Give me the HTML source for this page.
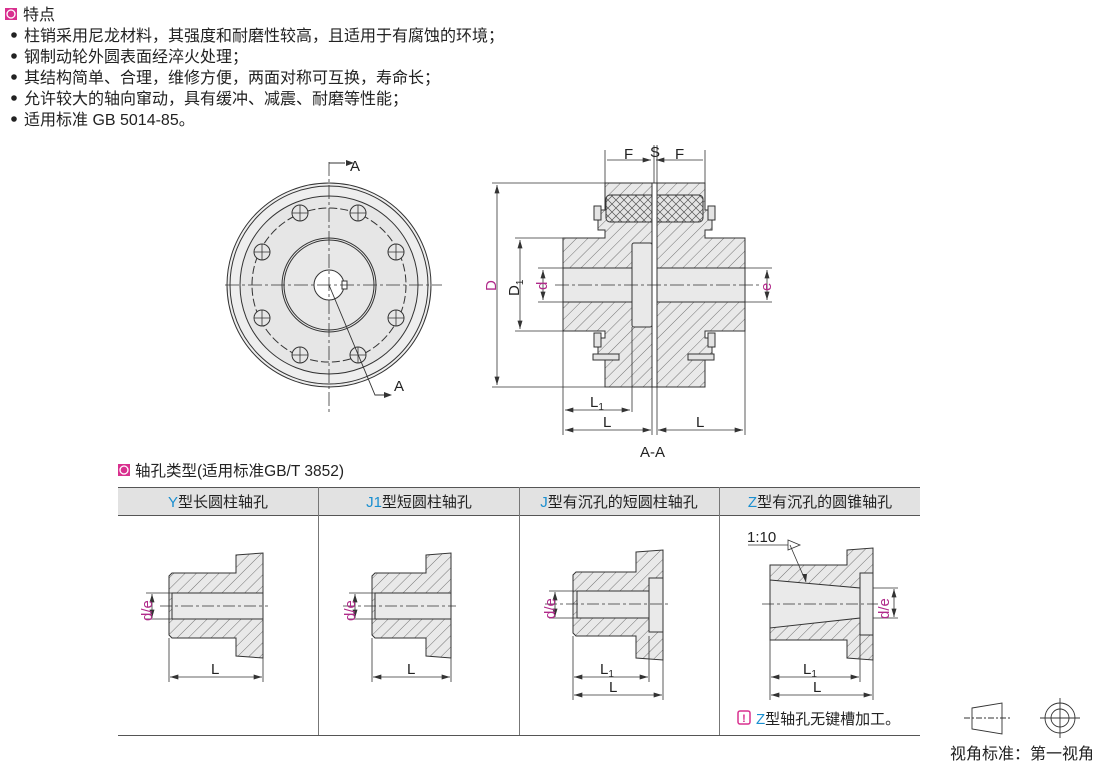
<!DOCTYPE html>
<html><head><meta charset="utf-8"><style>
html,body{margin:0;padding:0;background:#fff;}
body{width:1104px;height:766px;overflow:hidden;}
svg text{font-family:"Liberation Sans","Noto Sans CJK SC",sans-serif;}
.dm{marker-start:url(#as);marker-end:url(#ae);}
</style></head><body>
<svg width="1104" height="766" viewBox="0 0 1104 766" xmlns="http://www.w3.org/2000/svg">
<defs>
<pattern id="h" patternUnits="userSpaceOnUse" width="8" height="8" patternTransform="rotate(45)">
<rect width="8" height="8" fill="#e9e9e9"/><line x1="0" y1="0" x2="0" y2="8" stroke="#555" stroke-width="0.8"/></pattern>
<pattern id="x" patternUnits="userSpaceOnUse" width="8" height="8">
<rect width="8" height="8" fill="#e4e4e4"/><path d="M0 0L8 8M8 0L0 8" stroke="#555" stroke-width="0.7"/></pattern>
<marker id="ae" viewBox="0 0 10 6" refX="10" refY="3" markerWidth="9" markerHeight="5" orient="auto" markerUnits="userSpaceOnUse"><path d="M0 0L10 3L0 6z" fill="#333"/></marker>
<marker id="as" viewBox="0 0 10 6" refX="0" refY="3" markerWidth="9" markerHeight="5" orient="auto" markerUnits="userSpaceOnUse"><path d="M10 0L0 3L10 6z" fill="#333"/></marker>
</defs>
<g font-size="16" fill="#222">
<rect x="5" y="8" width="12" height="12" fill="#d9308f"/><circle cx="11" cy="14" r="4" fill="none" stroke="#fff" stroke-width="1.3"/>
<text x="23" y="20">特点</text>
<circle cx="14" cy="35" r="2.8"/><text x="24" y="41">柱销采用尼龙材料，其强度和耐磨性较高，且适用于有腐蚀的环境；</text>
<circle cx="14" cy="56" r="2.8"/><text x="24" y="62">钢制动轮外圆表面经淬火处理；</text>
<circle cx="14" cy="77" r="2.8"/><text x="24" y="83">其结构简单、合理，维修方便，两面对称可互换，寿命长；</text>
<circle cx="14" cy="98" r="2.8"/><text x="24" y="104">允许较大的轴向窜动，具有缓冲、减震、耐磨等性能；</text>
<circle cx="14" cy="119" r="2.8"/><text x="24" y="125">适用标准 GB 5014-85。</text>
</g>
<!-- front view -->
<g stroke="#333" stroke-width="1" fill="none">
<circle cx="329" cy="285" r="102" fill="#eeeeee"/>
<circle cx="329" cy="285" r="99"/>
<circle cx="329" cy="285" r="89" fill="#e6e6e6"/>
<circle cx="329" cy="285" r="77" stroke-dasharray="8 3"/>
<circle cx="329" cy="285" r="47" fill="#e8e8e8"/>
<circle cx="329" cy="285" r="45"/>
<circle cx="329" cy="285" r="15" fill="#fff"/>
<rect x="342" y="281" width="5" height="8" fill="#fff"/>
<g fill="#e6e6e6">
<circle cx="300" cy="213" r="8"/><circle cx="358" cy="213" r="8"/>
<circle cx="262" cy="252" r="8"/><circle cx="396" cy="252" r="8"/>
<circle cx="262" cy="318" r="8"/><circle cx="396" cy="318" r="8"/>
<circle cx="300" cy="355" r="8"/><circle cx="358" cy="355" r="8"/></g>
<path d="M292 213h16M300 205v16M350 213h16M358 205v16M254 252h16M262 244v16M388 252h16M396 244v16M254 318h16M262 310v16M388 318h16M396 310v16M292 355h16M300 347v16M350 355h16M358 347v16" stroke-width="0.8"/>
<path d="M225 285H442M329 162V413" stroke-dasharray="14 3 3 3" stroke-width="0.8"/>
<path d="M329 163h16M329 285L375 395h10" stroke-width="0.9"/>
</g>
<path d="M346 160l8 3l-8 3z M384 392l8 3l-8 3z" fill="#333"/>
<text x="350" y="171" font-size="15" fill="#222">A</text>
<text x="394" y="391" font-size="15" fill="#222">A</text>
<!-- section view -->
<g stroke="#333" stroke-width="1">
<path d="M605 183H652V387H605V360H598V338H605V331H563V238H605V230H598V210H605Z" fill="url(#h)"/>
<path d="M657 183H705V210H712V230H705V238H745V331H705V338H712V360H705V387H657Z" fill="url(#h)"/>
<rect x="606" y="195" width="97" height="27" rx="4" fill="url(#x)"/>
<rect x="563" y="268" width="69" height="34" fill="#e9e9e9"/>
<rect x="657" y="268" width="88" height="34" fill="#e9e9e9"/>
<rect x="632" y="243" width="20" height="84" rx="2" fill="#e9e9e9"/>
<rect x="652" y="183" width="5" height="204" fill="#fff"/>
<rect x="594" y="206" width="7" height="14" fill="#e4e4e4"/><rect x="708" y="206" width="7" height="14" fill="#e4e4e4"/>
<rect x="594" y="333" width="7" height="14" fill="#e4e4e4"/><rect x="708" y="333" width="7" height="14" fill="#e4e4e4"/>
<rect x="593" y="354" width="26" height="6" fill="#e4e4e4"/><rect x="688" y="354" width="26" height="6" fill="#e4e4e4"/>
</g>
<g stroke="#333" stroke-width="0.8" fill="none">
<path d="M555 285H760" stroke-dasharray="14 3 3 3"/>
<path d="M605 183V150M705 183V150M654 183V145M657 183V145M652 387V435M657 387V435M563 331V435M745 331V435M632 327V412"/>
<path d="M605 183H492M605 387H492M563 238H515M563 331H515M563 268H538M563 302H538M745 268H772M745 302H772"/>
<path d="M607 160H651" marker-end="url(#ae)"/>
<path d="M703 160H656" marker-end="url(#ae)"/>
<path class="dm" d="M497 185V385"/><path class="dm" d="M520 240V329"/>
<path class="dm" d="M543 270V300"/><path class="dm" d="M767 270V300"/>
<path class="dm" d="M565 410H630"/><path class="dm" d="M565 430H651"/><path class="dm" d="M658 430H743"/>
</g>
<g font-size="15" fill="#222">
<text x="624" y="159">F</text><text x="650" y="157">S</text><text x="675" y="159">F</text>
<text x="590" y="407">L<tspan font-size="10" dy="3">1</tspan></text>
<text x="603" y="427">L</text><text x="696" y="427">L</text>
<text x="640" y="457">A-A</text>
<g fill="#b02a8a"><text transform="translate(496 291) rotate(-90)">D</text>
<text transform="translate(547 290) rotate(-90)">d</text>
<text transform="translate(771 291) rotate(-90)">e</text></g>
<text transform="translate(519 296) rotate(-90)">D<tspan font-size="10" dy="4">1</tspan></text>
</g>
<!-- table -->
<rect x="118" y="464" width="12" height="12" fill="#d9308f"/><circle cx="124" cy="470" r="4" fill="none" stroke="#fff" stroke-width="1.3"/>
<text x="135" y="476" font-size="15.5" fill="#222">轴孔类型(适用标准GB/T 3852)</text>
<rect x="118" y="487" width="802" height="28" fill="#e2e2e2"/>
<path d="M118 487.5H920M118 515.5H920M118 735.5H920" stroke="#555" stroke-width="1"/>
<path d="M318.5 487V735M519.5 487V735M719.5 487V735" stroke="#777" stroke-width="1"/>
<g font-size="15" fill="#222" text-anchor="middle">
<text x="218" y="507"><tspan fill="#1a8fd0">Y</tspan>型长圆柱轴孔</text>
<text x="419" y="507"><tspan fill="#1a8fd0">J1</tspan>型短圆柱轴孔</text>
<text x="619" y="507"><tspan fill="#1a8fd0">J</tspan>型有沉孔的短圆柱轴孔</text>
<text x="820" y="507"><tspan fill="#1a8fd0">Z</tspan>型有沉孔的圆锥轴孔</text>
</g>
<!-- col drawings -->
<g stroke="#333" stroke-width="1">
<path d="M236 555L263 553V658L236 656V638H172L169 635V576L172 573H236Z" fill="url(#h)"/>
<rect x="172" y="593" width="91" height="26" fill="#eaeaea"/>
<path d="M426 555L451 553V658L426 656V638H375L372 635V576L375 573H426Z" fill="url(#h)"/>
<rect x="375" y="593" width="76" height="26" fill="#eaeaea"/>
<path d="M636 552L663 550V660L636 658V636H576L573 633V575L576 572H636Z" fill="url(#h)"/>
<rect x="577" y="591" width="72" height="27" fill="#eaeaea"/>
<rect x="649" y="578" width="14" height="54" fill="#eaeaea"/>
<path d="M847 550L873 548V660L847 658V640H770V565H847Z" fill="url(#h)"/>
<path d="M770 580L860 588V618L770 628Z" fill="#eaeaea"/>
<rect x="860" y="573" width="13" height="62" fill="#eaeaea"/>
</g>
<g stroke="#333" stroke-width="0.8" fill="none">
<path d="M160 606H268M343 606H456M545 604H668M762 604H878" stroke-dasharray="12 3 3 3"/>
<path d="M169 638V682M263 658V682M372 638V682M451 658V682M573 636V700M649 636V682M663 660V700M770 640V700M860 635V682M873 660V700"/>
<path d="M146 593H172M146 619H172M349 593H375M349 619H375M549 591H577M549 618H577M873 588H898M873 618H898"/>
<path class="dm" d="M152 594V618"/><path class="dm" d="M355 594V618"/>
<path class="dm" d="M555 592V617"/><path class="dm" d="M894 589V617"/>
<path class="dm" d="M170 677H262"/><path class="dm" d="M373 677H450"/>
<path class="dm" d="M574 677H648"/><path class="dm" d="M574 695H662"/>
<path class="dm" d="M771 677H859"/><path class="dm" d="M771 695H872"/>
<path d="M748 545H788M788 540L800 545L788 550Z M790 545L806 582"/>
</g>
<path d="M806 582l-4-8l5 0z" fill="#333"/>
<g font-size="15" fill="#222">
<text x="211" y="674">L</text><text x="407" y="674">L</text>
<text x="600" y="674">L<tspan font-size="10" dy="3">1</tspan></text><text x="609" y="692">L</text>
<text x="803" y="674">L<tspan font-size="10" dy="3">1</tspan></text><text x="813" y="692">L</text>
<text x="747" y="542">1:10</text>
<g fill="#b02a8a">
<text transform="translate(152 621) rotate(-90)">d/e</text>
<text transform="translate(355 621) rotate(-90)">d/e</text>
<text transform="translate(555 619) rotate(-90)">d/e</text>
<text transform="translate(889 619) rotate(-90)">d/e</text></g>
<rect x="738" y="711" width="12" height="13" rx="2" fill="none" stroke="#d9308f" stroke-width="1.5"/>
<text x="744" y="722" text-anchor="middle" fill="#d9308f" font-size="11" font-weight="bold">!</text>
<text x="756" y="724"><tspan fill="#1a8fd0">Z</tspan>型轴孔无键槽加工。</text>
<text x="950" y="759" font-size="16">视角标准：第一视角</text>
</g>
<g stroke="#333" stroke-width="0.9" fill="none">
<path d="M972 708L1002 703V734L972 729Z"/>
<path d="M964 718H1010" stroke-dasharray="6 2 2 2"/>
<circle cx="1060" cy="718" r="15"/><circle cx="1060" cy="718" r="9"/>
<path d="M1040 718H1080M1060 698V738"/>
</g>
</svg>
</body></html>
